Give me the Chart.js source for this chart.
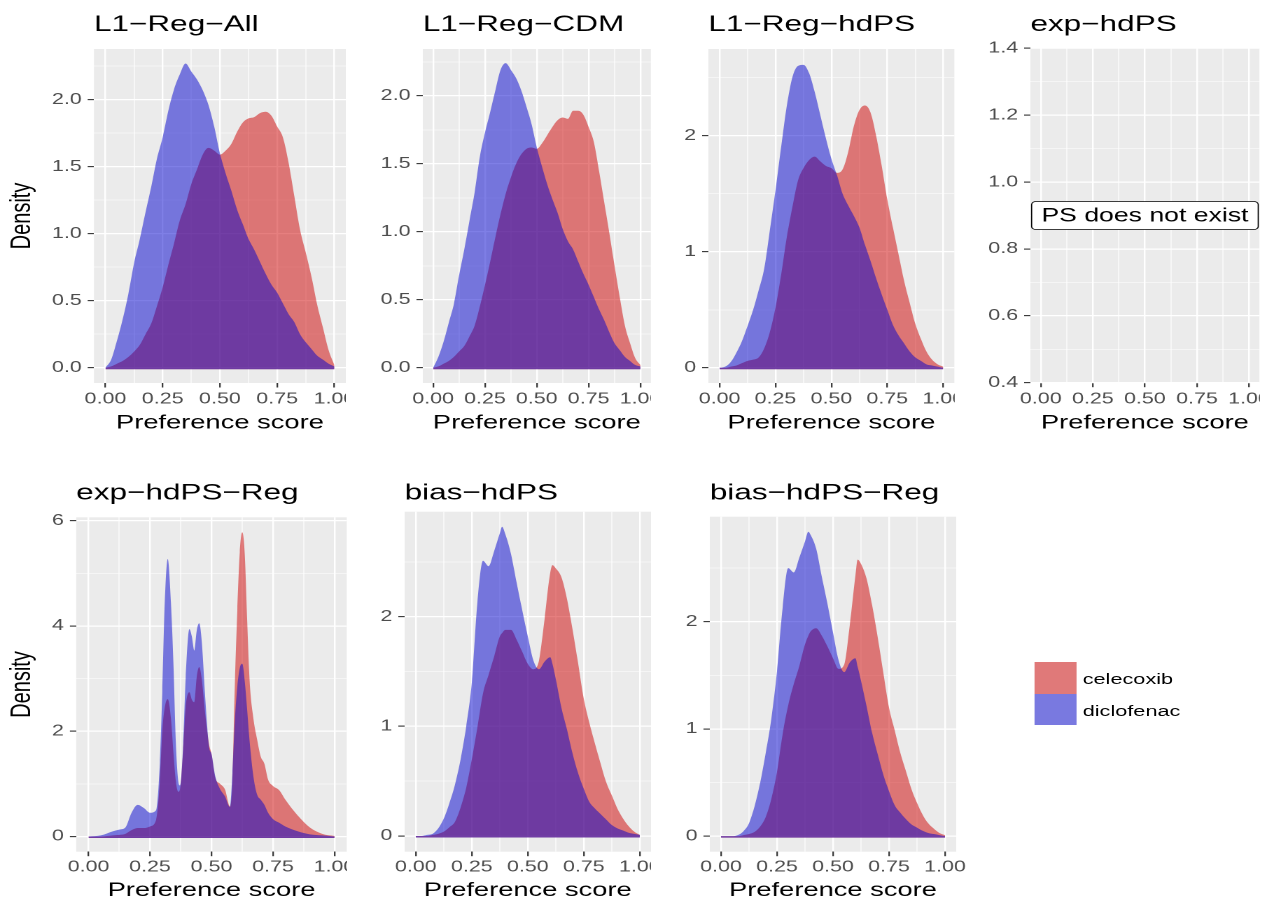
<!DOCTYPE html>
<html>
<head>
<meta charset="utf-8">
<title>Preference score by method</title>
<script src="https://cdn.jsdelivr.net/npm/chart.js@4.4.1/dist/chart.umd.min.js"></script>
<style>
  body { margin: 0; background: #fff; overflow: hidden; }
  #fig { position: absolute; left: 0; top: 0; height: 899px; transform-origin: 0 0; }
  #fig canvas { position: absolute; }
  .key { position: absolute; background: #F2F2F2; }
  .lab { position: absolute; font: 15.5px "Liberation Sans", Arial, sans-serif; color: #000; line-height: 1; white-space: nowrap; }
</style>
</head>
<body>
<div id="fig"></div>
<script>
// the whole figure is stretched sideways, so lay out in real px and divide x by S
const S = 1.4;
const FONT = '"Liberation Sans", Arial, Helvetica, sans-serif';

const treatments = ['celecoxib', 'diclofenac'];
const fills = ['rgba(205,0,0,0.5)', 'rgba(0,0,205,0.5)'];

const xTicks = [0, 0.25, 0.5, 0.75, 1];
const xTickLabels = ['0.00', '0.25', '0.50', '0.75', '1.00'];

// shared x grid for the smooth panels
const gridX = [0, 0.025, 0.05, 0.075, 0.1, 0.125, 0.15, 0.175, 0.2, 0.225, 0.25, 0.275, 0.3, 0.325, 0.35, 0.375,
  0.4, 0.425, 0.45, 0.475, 0.5, 0.525, 0.55, 0.575, 0.6, 0.625, 0.65, 0.675, 0.7, 0.725, 0.75, 0.775,
  0.8, 0.825, 0.85, 0.875, 0.9, 0.925, 0.95, 0.975, 1];

// L1-Reg-All
const allCelecoxib = [0, 0.01, 0.03, 0.05, 0.08, 0.12, 0.17, 0.25, 0.33, 0.46, 0.60, 0.77, 0.93, 1.10, 1.22, 1.37,
  1.48, 1.59, 1.64, 1.62, 1.59, 1.62, 1.67, 1.76, 1.83, 1.86, 1.87, 1.90, 1.91, 1.88, 1.80, 1.72,
  1.53, 1.28, 1.03, 0.86, 0.68, 0.47, 0.30, 0.13, 0.02];
const allDiclofenac = [0, 0.06, 0.20, 0.36, 0.55, 0.78, 0.96, 1.16, 1.35, 1.56, 1.72, 1.92, 2.08, 2.19, 2.27, 2.21,
  2.15, 2.07, 1.96, 1.80, 1.60, 1.45, 1.32, 1.18, 1.07, 0.96, 0.88, 0.79, 0.70, 0.62, 0.56, 0.48,
  0.40, 0.34, 0.25, 0.19, 0.14, 0.09, 0.06, 0.03, 0.01];

// L1-Reg-CDM
const cdmCelecoxib = [0, 0.01, 0.03, 0.05, 0.08, 0.12, 0.16, 0.23, 0.31, 0.45, 0.61, 0.78, 0.96, 1.13, 1.28, 1.40,
  1.50, 1.57, 1.61, 1.62, 1.61, 1.65, 1.71, 1.77, 1.82, 1.84, 1.83, 1.89, 1.89, 1.86, 1.77, 1.66,
  1.45, 1.22, 0.99, 0.75, 0.52, 0.31, 0.18, 0.07, 0.02];
const cdmDiclofenac = [0, 0.08, 0.19, 0.33, 0.47, 0.68, 0.87, 1.08, 1.29, 1.55, 1.73, 1.88, 2.04, 2.19, 2.24, 2.19,
  2.13, 2.04, 1.92, 1.79, 1.62, 1.48, 1.35, 1.24, 1.14, 1.02, 0.93, 0.87, 0.78, 0.69, 0.61, 0.52,
  0.43, 0.35, 0.26, 0.18, 0.13, 0.08, 0.05, 0.02, 0.01];

// L1-Reg-hdPS
const hdpsCelecoxib = [0, 0, 0.01, 0.02, 0.04, 0.06, 0.07, 0.09, 0.17, 0.31, 0.52, 0.80, 1.12, 1.38, 1.61, 1.72,
  1.79, 1.82, 1.78, 1.74, 1.72, 1.68, 1.71, 1.86, 2.08, 2.22, 2.26, 2.20, 2.00, 1.74, 1.45, 1.21,
  0.98, 0.75, 0.56, 0.38, 0.25, 0.14, 0.07, 0.03, 0.01];
const hdpsDiclofenac = [0, 0.01, 0.05, 0.13, 0.23, 0.36, 0.50, 0.67, 0.86, 1.19, 1.53, 1.90, 2.25, 2.50, 2.60, 2.61,
  2.54, 2.38, 2.18, 1.98, 1.80, 1.66, 1.50, 1.40, 1.31, 1.21, 1.06, 0.92, 0.77, 0.63, 0.50, 0.37,
  0.28, 0.21, 0.14, 0.09, 0.06, 0.03, 0.02, 0.01, 0];

// exp-hdPS-Reg (spiky, so a finer grid)
const expRegX = [0, 0.05, 0.1, 0.125, 0.15, 0.175, 0.2, 0.225, 0.25, 0.275,
  0.29, 0.3, 0.31, 0.322, 0.335, 0.345, 0.355, 0.365, 0.372, 0.385,
  0.395, 0.41, 0.42, 0.43, 0.44, 0.45, 0.46, 0.475, 0.49, 0.5,
  0.515, 0.535, 0.555, 0.575, 0.585, 0.595, 0.605, 0.615, 0.625, 0.635,
  0.645, 0.655, 0.67, 0.685, 0.7, 0.715, 0.73, 0.75, 0.775, 0.8,
  0.85, 0.9, 0.95, 1];
const expRegCelecoxib = [0, 0, 0.02, 0.03, 0.05, 0.12, 0.16, 0.16, 0.19, 0.32,
  1.05, 2.0, 2.45, 2.61, 2.25, 1.6, 1.05, 0.85, 0.9, 1.65,
  2.45, 2.74, 2.6, 2.55, 3.03, 3.22, 3.0, 2.3, 1.75, 1.57,
  1.12, 1.0, 0.89, 0.57, 1.05, 2.9, 4.3, 5.4, 5.78, 5.37,
  4.1, 2.95, 2.25, 1.85, 1.52, 1.38, 1.08, 0.96, 0.88, 0.70,
  0.40, 0.17, 0.05, 0.01];
const expRegDiclofenac = [0, 0.02, 0.10, 0.13, 0.17, 0.45, 0.60, 0.54, 0.45, 0.50,
  1.4, 2.75, 4.45, 5.27, 4.45, 3.3, 1.78, 1.05, 0.97, 1.76,
  3.0, 3.94, 3.8, 3.53, 3.91, 4.05, 3.72, 2.6, 1.7, 1.57,
  1.15, 0.9, 0.76, 0.56, 1.2, 2.2, 2.85, 3.2, 3.28, 2.95,
  2.4, 1.8, 1.15, 0.8, 0.7, 0.6, 0.45, 0.33, 0.26, 0.19,
  0.1, 0.04, 0.02, 0];

// bias-hdPS
const biasX = [0, 0.025, 0.05, 0.075, 0.1, 0.125, 0.15, 0.175, 0.2, 0.225, 0.25, 0.275, 0.3, 0.325, 0.35, 0.375,
  0.385, 0.4, 0.425, 0.45, 0.475, 0.5, 0.525, 0.55, 0.575, 0.6, 0.61, 0.625, 0.65, 0.675, 0.7, 0.725,
  0.75, 0.775, 0.8, 0.825, 0.85, 0.875, 0.9, 0.925, 0.95, 0.975, 1];
const biasCelecoxib = [0, 0, 0, 0.01, 0.02, 0.04, 0.08, 0.13, 0.26, 0.44, 0.70, 0.99, 1.30, 1.47, 1.64, 1.82,
  1.85, 1.88, 1.88, 1.79, 1.68, 1.57, 1.52, 1.60, 1.98, 2.40, 2.47, 2.44, 2.36, 2.16, 1.88, 1.57,
  1.25, 1.03, 0.84, 0.66, 0.49, 0.37, 0.25, 0.16, 0.09, 0.04, 0.01];
const biasDiclofenac = [0, 0, 0.01, 0.02, 0.07, 0.16, 0.30, 0.47, 0.70, 1.00, 1.40, 2.13, 2.51, 2.46, 2.60, 2.76,
  2.82, 2.75, 2.57, 2.31, 2.06, 1.82, 1.60, 1.52, 1.59, 1.63, 1.57, 1.43, 1.17, 0.97, 0.75, 0.57,
  0.43, 0.31, 0.25, 0.20, 0.15, 0.10, 0.07, 0.05, 0.03, 0.02, 0.01];

// bias-hdPS-Reg
const biasRegX = [0, 0.025, 0.05, 0.075, 0.1, 0.125, 0.15, 0.175, 0.2, 0.225, 0.25, 0.275, 0.3, 0.325, 0.35, 0.375,
  0.39, 0.4, 0.425, 0.45, 0.475, 0.5, 0.525, 0.55, 0.575, 0.6, 0.61, 0.625, 0.65, 0.675, 0.7, 0.725,
  0.75, 0.775, 0.8, 0.825, 0.85, 0.875, 0.9, 0.925, 0.95, 0.975, 1];
const biasRegCelecoxib = [0, 0, 0, 0, 0.01, 0.02, 0.04, 0.09, 0.18, 0.35, 0.60, 0.95, 1.22, 1.42, 1.59, 1.79,
  1.87, 1.91, 1.94, 1.87, 1.77, 1.66, 1.56, 1.60, 1.97, 2.43, 2.58, 2.54, 2.40, 2.15, 1.85, 1.52,
  1.20, 0.99, 0.78, 0.61, 0.44, 0.31, 0.20, 0.12, 0.07, 0.03, 0.01];
const biasRegDiclofenac = [0, 0, 0, 0.01, 0.045, 0.12, 0.28, 0.50, 0.78, 1.10, 1.54, 2.13, 2.50, 2.46, 2.60, 2.75,
  2.84, 2.81, 2.68, 2.42, 2.17, 1.90, 1.64, 1.53, 1.62, 1.66, 1.58, 1.45, 1.21, 0.96, 0.76, 0.57,
  0.42, 0.29, 0.22, 0.16, 0.11, 0.08, 0.05, 0.03, 0.02, 0.01, 0];

// y ticks
const yTicksHalf = [0, 0.5, 1, 1.5, 2];
const yLabelsHalf = ['0.0', '0.5', '1.0', '1.5', '2.0'];
const yTicksUnit = [0, 1, 2];
const yLabelsUnit = ['0', '1', '2'];
const yTicksExp = [0.4, 0.6, 0.8, 1.0, 1.2, 1.4];
const yLabelsExp = ['0.4', '0.6', '0.8', '1.0', '1.2', '1.4'];
const yTicksExpReg = [0, 2, 4, 6];
const yLabelsExpReg = ['0', '2', '4', '6'];

const noteText = 'PS does not exist';

// layout in real (stretched) px: canvas [l, t, r, b], plot area [l, t, r, b]
const panels = [
  { title: 'L1−Reg−All', x: gridX, series: [allCelecoxib, allDiclofenac], yt: yTicksHalf, yl: yLabelsHalf,
    ymin: -0.114, ymax: 2.378, canvas: [0, 0, 346, 440], area: [94, 49, 346, 383], yTitle: 'Density' },
  { title: 'L1−Reg−CDM', x: gridX, series: [cdmCelecoxib, cdmDiclofenac], yt: yTicksHalf, yl: yLabelsHalf,
    ymin: -0.112, ymax: 2.344, canvas: [366.7, 0, 650.7, 440], area: [422.7, 49, 650.7, 383] },
  { title: 'L1−Reg−hdPS', x: gridX, series: [hdpsCelecoxib, hdpsDiclofenac], yt: yTicksUnit, yl: yLabelsUnit,
    ymin: -0.131, ymax: 2.747, canvas: [653, 0, 955, 440], area: [709, 49, 955, 383] },
  { title: 'exp−hdPS', x: [], series: [], yt: yTicksExp, yl: yLabelsExp,
    ymin: 0.4, ymax: 1.4, canvas: [975, 0, 1260, 440], area: [1031, 48.3, 1260, 382.7],
    note: { text: noteText, x: 0.5, y: 0.9 } },
  { title: 'exp−hdPS−Reg', x: expRegX, series: [expRegCelecoxib, expRegDiclofenac], yt: yTicksExpReg, yl: yLabelsExpReg,
    ymin: -0.289, ymax: 6.063, canvas: [0, 460, 346.8, 910], area: [76.2, 517.3, 346.8, 851.7], yTitle: 'Density' },
  { title: 'bias−hdPS', x: biasX, series: [biasCelecoxib, biasDiclofenac], yt: yTicksUnit, yl: yLabelsUnit,
    ymin: -0.143, ymax: 2.957, canvas: [348, 460, 650.7, 910], area: [404, 511.7, 650.7, 851.7] },
  { title: 'bias−hdPS−Reg', x: biasRegX, series: [biasRegCelecoxib, biasRegDiclofenac], yt: yTicksUnit, yl: yLabelsUnit,
    ymin: -0.145, ymax: 2.98, canvas: [653.3, 460, 975, 910], area: [709.3, 516.7, 955.7, 851.7] }
];

const fig = document.getElementById('fig');
fig.style.width = (1263 / S) + 'px';
fig.style.transform = 'scaleX(' + S + ')';

// grey panel background
const panelBg = {
  id: 'panelBg',
  beforeDraw(chart) {
    const { ctx, chartArea: a } = chart;
    ctx.save();
    ctx.fillStyle = '#EBEBEB';
    ctx.fillRect(a.left, a.top, a.right - a.left, a.bottom - a.top);
    ctx.restore();
  }
};

// boxed text label placed in data coordinates
const noteLabel = {
  id: 'noteLabel',
  afterDatasetsDraw(chart, args, opts) {
    if (!opts || !opts.text) return;
    const { ctx, scales: { x, y } } = chart;
    const px = x.getPixelForValue(opts.x), py = y.getPixelForValue(opts.y);
    ctx.save();
    ctx.font = '19px ' + FONT;
    const w = ctx.measureText(opts.text).width + 14, h = 28;
    ctx.beginPath();
    ctx.roundRect(px - w / 2, py - h / 2, w, h, 3);
    ctx.fillStyle = '#FFFFFF';
    ctx.fill();
    ctx.lineWidth = 0.8;
    ctx.strokeStyle = '#000000';
    ctx.stroke();
    ctx.fillStyle = '#000000';
    ctx.textAlign = 'center';
    ctx.textBaseline = 'middle';
    ctx.fillText(opts.text, px, py + 1);
    ctx.restore();
  }
};

function tickSet(majors, labels, min, max) {
  const step = majors[1] - majors[0];
  const all = [];
  for (let v = majors[0] - step; v <= max + 1e-9; v += step / 2) {
    if (v >= min - 1e-9) all.push(+v.toFixed(6));
  }
  const idx = v => majors.findIndex(m => Math.abs(m - v) < 1e-6);
  return { all, major: v => idx(v) >= 0, label: v => (idx(v) >= 0 ? labels[idx(v)] : '') };
}

function gridOpts(t) {
  return {
    color: '#FFFFFF',
    lineWidth: c => (c.tick && t.major(c.tick.value) ? 1.2 : 0.6),
    tickLength: 4.5,
    tickColor: c => (c.tick && t.major(c.tick.value) ? '#333333' : 'rgba(0,0,0,0)'),
    tickWidth: 1.1
  };
}

function makePanel(p) {
  const [cl, ct, cr, cb] = p.canvas;
  const [al, at, ar, ab] = p.area;
  const w = Math.round((cr - cl) / S), h = cb - ct;
  const cv = document.createElement('canvas');
  cv.width = w;
  cv.height = h;
  cv.style.left = (cl / S) + 'px';
  cv.style.top = ct + 'px';
  fig.appendChild(cv);

  const top = ct < 400;
  const titleCenter = top ? 24.9 : 493.3;
  const tPadTop = titleCenter - ct - 13.5;
  const tPadBottom = at - ct - tPadTop - 27;
  const xLabelCenter = top ? 399.2 : 867.5;
  const xTitleCenter = top ? 423 : 890.5;
  // densities close with a thin strip along the baseline (about 1.5 px)
  const base = -1.5 * (p.ymax - p.ymin) / (ab - at);

  const xt = tickSet(xTicks, xTickLabels, -0.05, 1.05);
  const yt = tickSet(p.yt, p.yl, p.ymin, p.ymax);

  new Chart(cv, {
    type: 'line',
    data: {
      datasets: p.series.map((s, i) => ({
        label: treatments[i],
        data: p.x.map((x, j) => ({ x: x, y: s[j] })),
        backgroundColor: fills[i],
        borderColor: fills[i],
        borderWidth: 0,
        pointRadius: 0,
        fill: { value: base },
        cubicInterpolationMode: 'monotone',
        order: i === 0 ? 1 : 0
      }))
    },
    options: {
      responsive: false,
      animation: false,
      devicePixelRatio: 2,
      layout: { autoPadding: false, padding: { left: 0, top: 0, bottom: 0, right: w - (ar - cl) / S } },
      plugins: {
        legend: { display: false },
        tooltip: { enabled: false },
        title: {
          display: true, text: p.title, align: 'start', fullSize: false, color: '#000000',
          font: { family: FONT, size: 22.5, weight: 'normal', lineHeight: 1.2 },
          padding: { top: tPadTop, bottom: tPadBottom }
        },
        noteLabel: p.note || {}
      },
      scales: {
        x: {
          type: 'linear', min: -0.05, max: 1.05,
          afterBuildTicks: sc => { sc.ticks = xt.all.map(value => ({ value })); },
          afterFit: sc => { sc.height = cb - ab; sc.paddingLeft = 0; sc.paddingRight = 0; },
          grid: gridOpts(xt),
          border: { display: false },
          ticks: {
            autoSkip: false, maxRotation: 0, minRotation: 0, color: '#4D4D4D',
            padding: xLabelCenter - ab - 4.5 - 9.18,
            font: { family: FONT, size: 15.3 },
            callback: v => xt.label(v)
          },
          title: {
            display: true, text: 'Preference score', color: '#000000',
            font: { family: FONT, size: 19.5 },
            padding: { top: 0, bottom: cb - xTitleCenter - 11.7 }
          }
        },
        y: {
          type: 'linear', min: p.ymin, max: p.ymax,
          afterBuildTicks: sc => { sc.ticks = yt.all.map(value => ({ value })); },
          afterFit: sc => { sc.width = (al - cl) / S; sc.paddingTop = 0; sc.paddingBottom = 0; },
          grid: gridOpts(yt),
          border: { display: false },
          ticks: {
            autoSkip: false, color: '#4D4D4D', padding: 4.3,
            font: { family: FONT, size: 15.3 },
            callback: v => yt.label(v)
          },
          title: {
            display: !!p.yTitle, text: p.yTitle || '', color: '#000000',
            font: { family: FONT, size: 20 },
            padding: { top: 22.5 / S - 12, bottom: 0 }
          }
        }
      }
    },
    plugins: [panelBg, noteLabel]
  });
}

panels.forEach(makePanel);

// legend
treatments.forEach((name, i) => {
  const key = document.createElement('div');
  key.className = 'key';
  key.style.left = (1034 / S) + 'px';
  key.style.top = (662 + i * 31.8) + 'px';
  key.style.width = (42 / S) + 'px';
  key.style.height = '31.5px';
  const sw = document.createElement('div');
  sw.style.width = '100%';
  sw.style.height = '100%';
  sw.style.background = fills[i];
  key.appendChild(sw);
  fig.appendChild(key);

  const lab = document.createElement('div');
  lab.className = 'lab';
  lab.textContent = name;
  lab.style.left = (1082.7 / S) + 'px';
  lab.style.top = (670.8 + i * 31.7) + 'px';
  fig.appendChild(lab);
});
</script>
</body>
</html>
